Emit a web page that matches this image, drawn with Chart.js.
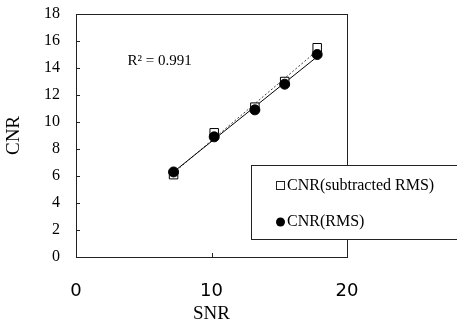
<!DOCTYPE html>
<html>
<head>
<meta charset="utf-8">
<script src="https://cdn.jsdelivr.net/npm/chart.js@4"></script>
<style>
  html, body { margin: 0; padding: 0; background: #fff; }
  #wrap { width: 457px; height: 325px; }
</style>
</head>
<body>
<div id="wrap"><canvas id="c" width="457" height="325"></canvas></div>
<script>
/* data */
const snr = [7.2, 10.2, 13.2, 15.4, 17.8];
const cnrSub = [6.1, 9.2, 11.1, 13.0, 15.5];
const cnrRms = [6.3, 8.9, 10.9, 12.8, 15.0];
const xTicks = [0, 10, 20];
const yTicks = [0, 2, 4, 6, 8, 10, 12, 14, 16, 18];
const r2Label = 'R² = 0.991';
const legendLabels = ['CNR(subtracted RMS)', 'CNR(RMS)'];

const SERIF = '"Liberation Serif", "Times New Roman", serif';
const INK = '#222';

/* least squares trendline over the data range */
function trend(xs, ys){
  const n = xs.length;
  const mx = xs.reduce((a,b)=>a+b,0)/n, my = ys.reduce((a,b)=>a+b,0)/n;
  let sxy = 0, sxx = 0;
  xs.forEach((x,i) => { sxy += (x-mx)*(ys[i]-my); sxx += (x-mx)*(x-mx); });
  const b = sxy/sxx, a = my - b*mx;
  const x0 = Math.min(...xs), x1 = Math.max(...xs);
  return [{x:x0, y:a+b*x0}, {x:x1, y:a+b*x1}];
}
const pts = ys => snr.map((x,i) => ({x, y: ys[i]}));

/* frame, inside ticks, R² text, legend box */
const decor = {
  id: 'decor',
  afterDatasetsDraw(chart){
    const {ctx, chartArea: a, scales: {x, y}} = chart;
    ctx.save();
    ctx.strokeStyle = INK;
    ctx.lineWidth = 1;
    ctx.strokeRect(a.left + 0.5, a.top + 0.5, a.right - a.left, a.bottom - a.top);
    ctx.beginPath();
    yTicks.forEach(v => { const p = Math.round(y.getPixelForValue(v)) + 0.5; ctx.moveTo(a.left, p); ctx.lineTo(a.left + 4, p); });
    xTicks.forEach(v => { const p = Math.round(x.getPixelForValue(v)) + 0.5; ctx.moveTo(p, a.bottom); ctx.lineTo(p, a.bottom - 4); });
    ctx.stroke();

    ctx.fillStyle = '#000';
    ctx.font = '15px ' + SERIF;
    ctx.textBaseline = 'middle';
    ctx.textAlign = 'left';
    ctx.fillText(r2Label, x.getPixelForValue(3.8), y.getPixelForValue(14.5));

    /* legend */
    const lx = 251, ly = 165, lw = 210, lh = 74;
    ctx.fillStyle = '#fff';
    ctx.fillRect(lx, ly, lw, lh);
    ctx.strokeStyle = INK;
    ctx.strokeRect(lx + 0.5, ly + 0.5, lw, lh);
    ctx.font = '16px ' + SERIF;
    ctx.fillStyle = '#000';
    ctx.fillText(legendLabels[0], 287, 186);
    ctx.fillText(legendLabels[1], 287, 222);
    ctx.lineWidth = 1;
    ctx.strokeRect(276.5, 181.5, 8, 8);
    ctx.beginPath();
    ctx.arc(280.5, 222, 4.5, 0, Math.PI*2);
    ctx.fill();
    ctx.restore();
  }
};

new Chart(document.getElementById('c'), {
  type: 'scatter',
  data: {
    datasets: [
      { label: legendLabels[1], data: pts(cnrRms), order: 1,
        pointStyle: 'circle', pointRadius: 5, backgroundColor: '#000', borderColor: '#000', borderWidth: 1 },
      { label: legendLabels[0], data: pts(cnrSub), order: 2,
        pointStyle: 'rect', pointRadius: 6, backgroundColor: '#fff', borderColor: '#000', borderWidth: 1 },
      { type: 'line', data: trend(snr, cnrRms), order: 3, showLine: true,
        borderColor: '#000', borderWidth: 1, pointRadius: 0 },
      { type: 'line', data: trend(snr, cnrSub), order: 4, showLine: true,
        borderColor: '#444', borderWidth: 1, borderDash: [2, 2], pointRadius: 0 }
    ]
  },
  options: {
    responsive: false,
    animation: false,
    layout: { padding: { top: 14, right: 110, left: 0, bottom: 0 } },
    plugins: { legend: { display: false }, tooltip: { enabled: false } },
    scales: {
      x: {
        type: 'linear', min: 0, max: 20,
        afterBuildTicks: s => { s.ticks = xTicks.map(v => ({value: v})); },
        afterFit: s => { s.height = 68; s.paddingLeft = 0; s.paddingRight = 0; },
        grid: { display: false },
        border: { display: false },
        ticks: { color: '#000', padding: 16, font: { family: '"DejaVu Sans", sans-serif', size: 18 } },
        title: { display: true, text: 'SNR', color: '#000', padding: { top: 0, bottom: 0 },
                 font: { family: SERIF, size: 19 } }
      },
      y: {
        type: 'linear', min: 0, max: 18,
        afterBuildTicks: s => { s.ticks = yTicks.map(v => ({value: v})); },
        afterFit: s => { s.width = 76; s.paddingTop = 0; s.paddingBottom = 0; },
        grid: { display: false },
        border: { display: false },
        ticks: { color: '#000', padding: 8, font: { family: SERIF, size: 16 } },
        title: { display: true, text: 'CNR', color: '#000', padding: { top: 3, bottom: 0 },
                 font: { family: SERIF, size: 19 } }
      }
    }
  },
  plugins: [decor]
});
</script>
</body>
</html>
